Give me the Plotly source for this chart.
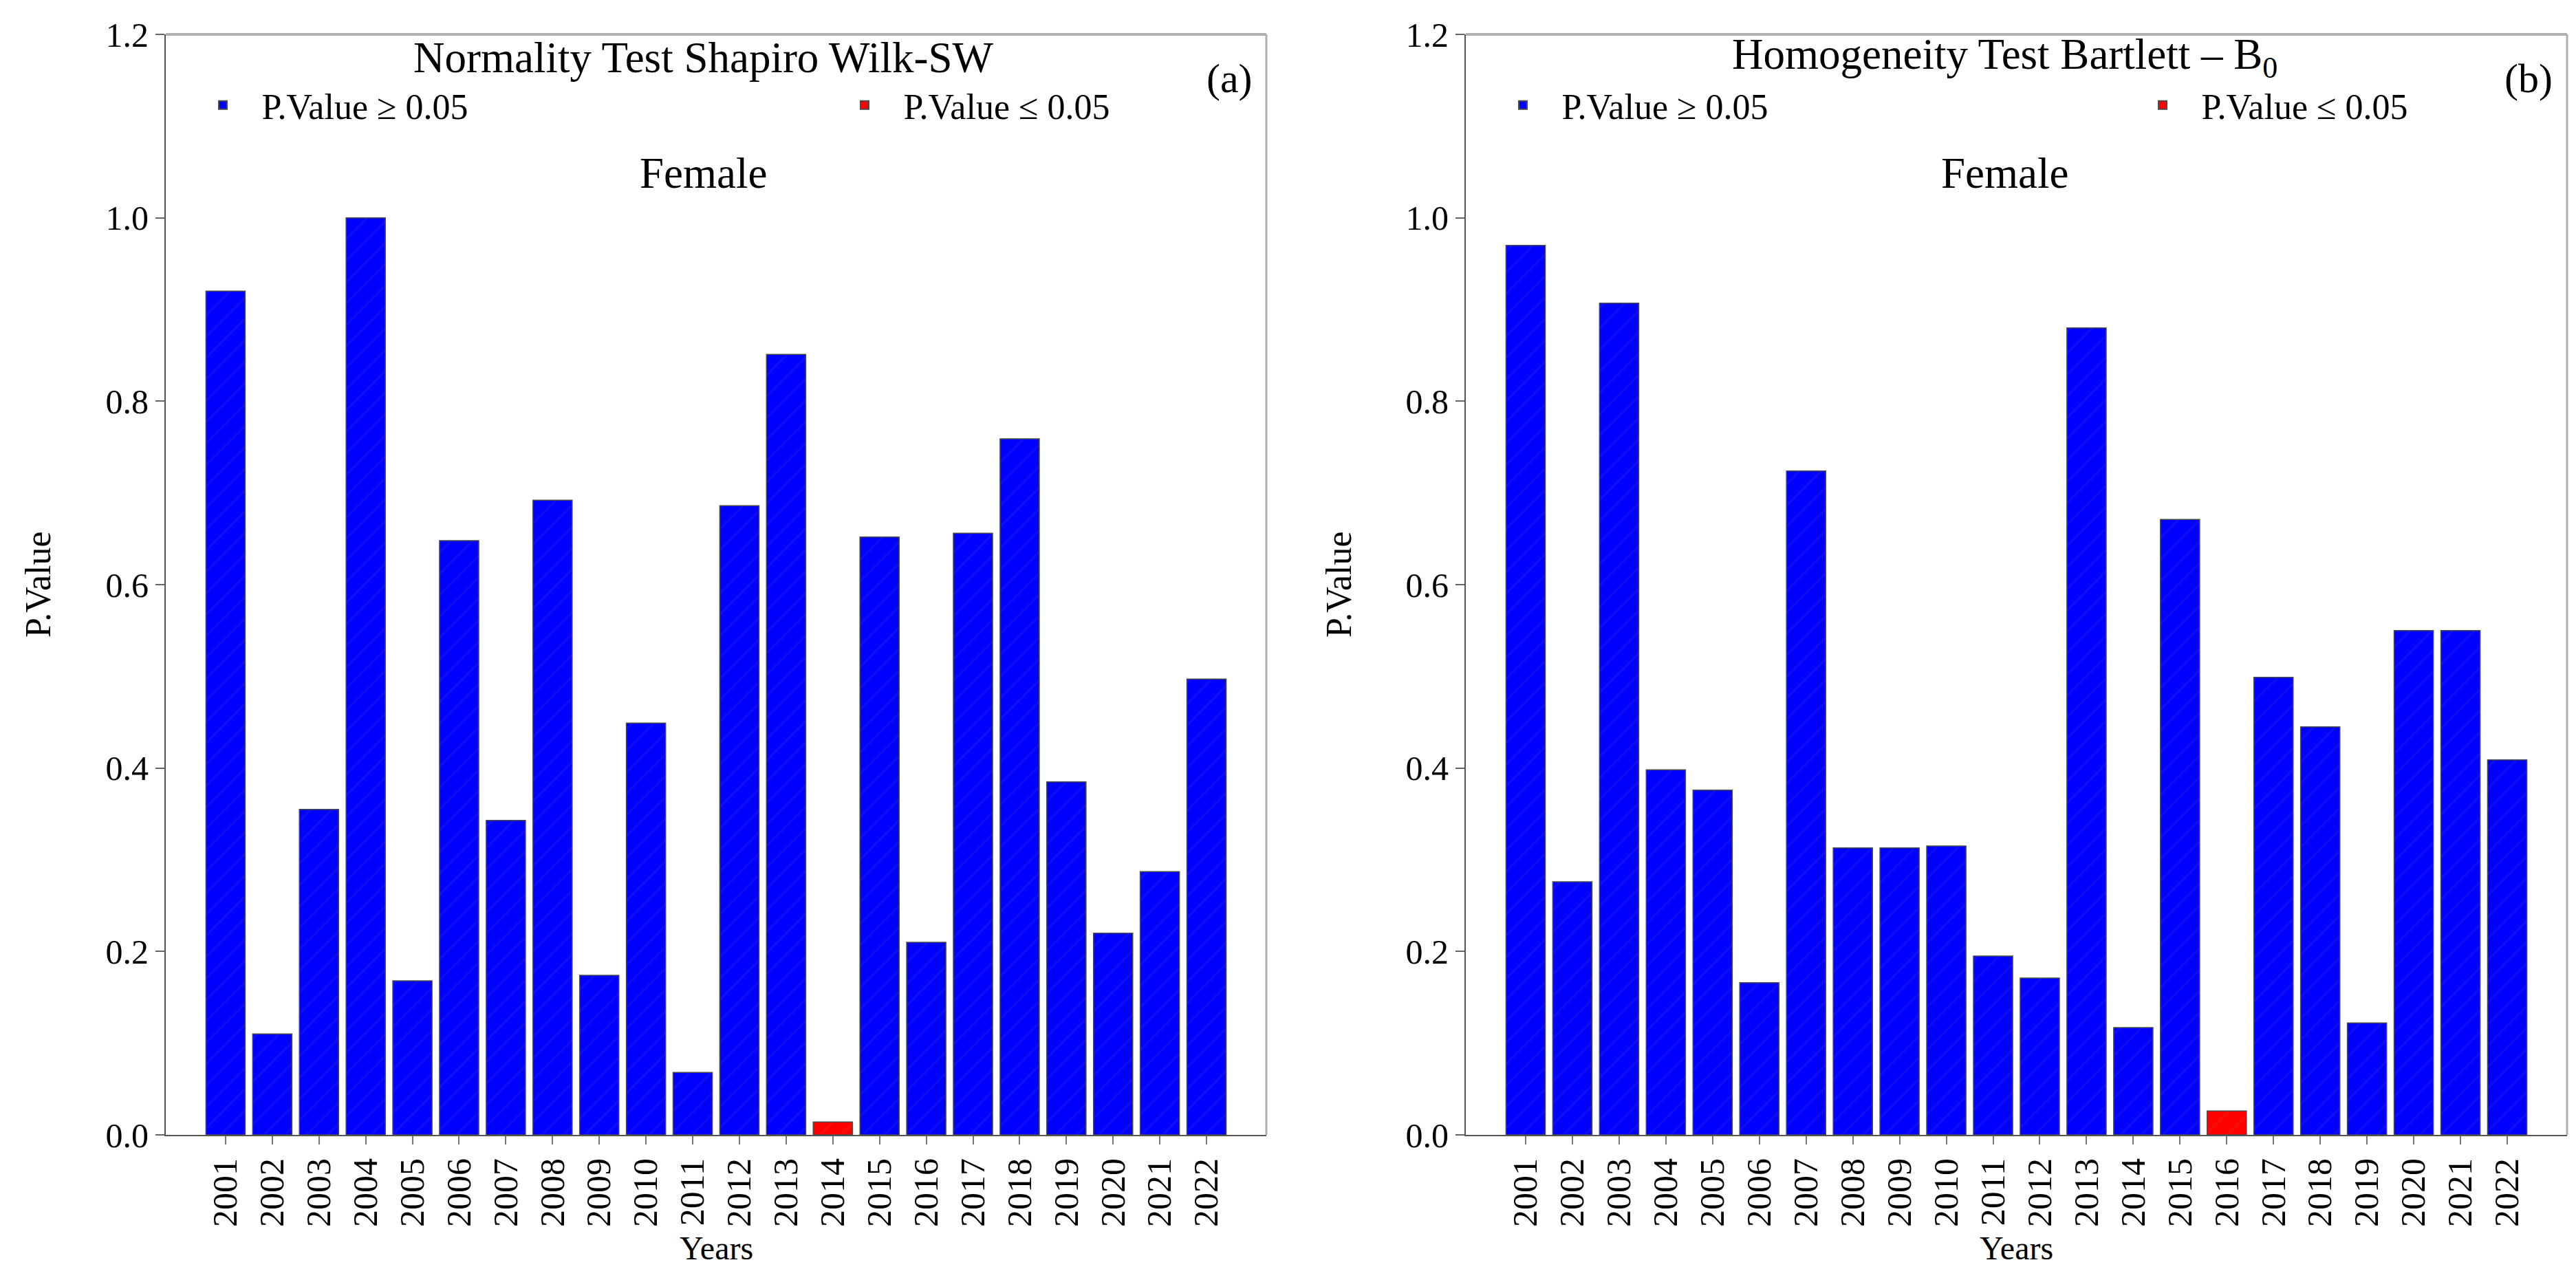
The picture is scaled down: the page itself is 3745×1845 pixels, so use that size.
import plotly.graph_objects as go

years = list(range(2001, 2023))
year_labels = [str(y) for y in years]

# Panel (a): Normality Test Shapiro Wilk-SW, Female
sw_pvalues = [0.920, 0.110, 0.355, 1.000, 0.168, 0.648, 0.343, 0.692, 0.174, 0.449, 0.068,
              0.686, 0.851, 0.014, 0.652, 0.210, 0.656, 0.759, 0.385, 0.220, 0.287, 0.497]
# Panel (b): Homogeneity Test Bartlett - B0, Female
b0_pvalues = [0.970, 0.276, 0.907, 0.398, 0.376, 0.166, 0.724, 0.313, 0.313, 0.315, 0.195,
              0.171, 0.880, 0.117, 0.671, 0.026, 0.499, 0.445, 0.122, 0.550, 0.550, 0.409]

threshold = 0.05
y_ticks = [0.0, 0.2, 0.4, 0.6, 0.8, 1.0, 1.2]

W, H = 3745, 1845
ML, MR, MT, MB = 0, 0, 42, 203
FONT = "Liberation Serif, Times New Roman, serif"
BLUE = "#0000FF"
RED = "#FF0000"

def px_x(p):
    return p / W

def px_y(p):
    return (H - MB - p) / (H - MT - MB)

fig = go.Figure()

panels = [
    (sw_pvalues, "x", "y", ("legend", "legend2"), "Normality Test Shapiro Wilk-SW", "(a)"),
    (b0_pvalues, "x2", "y2", ("legend3", "legend4"), "Homogeneity Test Bartlett \u2013 B<sub>0</sub>", "(b)"),
]

for vals, xa, ya, legs, _, _ in panels:
    hi_x = [y for y, v in zip(years, vals) if v >= threshold]
    hi_v = [v for v in vals if v >= threshold]
    lo_x = [y for y, v in zip(years, vals) if v < threshold]
    lo_v = [v for v in vals if v < threshold]
    for xs, vs, col, name, leg in [(hi_x, hi_v, BLUE, "\u2002\u2009P.Value \u2265 0.05", legs[0]),
                                   (lo_x, lo_v, RED, "\u2002\u2009P.Value \u2264 0.05", legs[1])]:
        fig.add_trace(go.Bar(
            x=xs, y=vs, name=name, xaxis=xa, yaxis=ya, legend=leg,
            width=0.84,
            marker=dict(color=col, line=dict(color="#4a4a4a", width=1.5),
                        pattern=dict(shape="/", fgcolor="#1a1af0" if col == BLUE else "#f01a1a",
                                     size=22, solidity=0.15)),
        ))

dom1 = [px_x(233), px_x(1833)]
dom2 = [px_x(2123), px_x(3724)]

xaxis_common = dict(
    range=[1999.72, 2023.28], tickvals=years, ticktext=year_labels, tickangle=-90,
    showline=True, linecolor="#555555", linewidth=2, ticks="outside", ticklen=12,
    tickwidth=2, tickcolor="#777777", showgrid=False, zeroline=False,
    tickfont=dict(family=FONT, size=50, color="black"),
)
yaxis_common = dict(
    range=[0, 1.2], tickvals=y_ticks, tickformat=".1f",
    showline=True, linecolor="#555555", linewidth=2, ticks="outside", ticklen=13,
    tickwidth=2, tickcolor="#666666", showgrid=False, zeroline=False,
    tickfont=dict(family=FONT, size=50, color="black"),
)

LEG_FONT = 52

def legend_at(xpx):
    return dict(orientation="h", x=px_x(xpx), y=px_y(145), xanchor="left", yanchor="middle",
                font=dict(family=FONT, size=LEG_FONT, color="black"),
                bgcolor="rgba(0,0,0,0)", itemsizing="constant")

fig.update_layout(
    width=W, height=H,
    margin=dict(l=ML, r=MR, t=MT, b=MB),
    paper_bgcolor="white", plot_bgcolor="white",
    barmode="overlay",
    font=dict(family=FONT, color="black"),
    xaxis={**xaxis_common, "domain": dom1, "anchor": "y"},
    yaxis={**yaxis_common, "domain": [0, 1], "anchor": "x"},
    xaxis2={**xaxis_common, "domain": dom2, "anchor": "y2"},
    yaxis2={**yaxis_common, "domain": [0, 1], "anchor": "x2"},
    legend=legend_at(296),
    legend2=legend_at(1229),
    legend3=legend_at(2186),
    legend4=legend_at(3116),
    showlegend=True,
)

# Top and right frame lines (lighter gray) for both panels
for xr, yr in [("x domain", "y domain"), ("x2 domain", "y2 domain")]:
    fig.add_shape(type="line", xref=xr, yref=yr, x0=0, x1=1, y0=1, y1=1,
                  line=dict(color="#b0b0b0", width=4))
    fig.add_shape(type="line", xref=xr, yref=yr, x0=1, x1=1, y0=0, y1=1,
                  line=dict(color="#b0b0b0", width=3))

ann = []
centers = [(1015, 1033, 47, 1779), (2906, 2923, 1938, 3668)]
for (vals, xa, ya, legs, title, tag), (tc, pc, ylx, tagx) in zip(panels, centers):
    ann.append(dict(text=title, x=px_x(tc), y=px_y(76), xref="paper", yref="paper",
                    showarrow=False, xanchor="center", yanchor="middle",
                    font=dict(family=FONT, size=63, color="black")))
    ann.append(dict(text="Female", x=px_x(tc), y=px_y(244),
                    xref="paper", yref="paper", showarrow=False, xanchor="center",
                    yanchor="middle", font=dict(family=FONT, size=63, color="black")))
    ann.append(dict(text=tag, x=px_x(tagx), y=px_y(106), xref="paper", yref="paper",
                    showarrow=False, xanchor="center", yanchor="middle",
                    font=dict(family=FONT, size=60, color="black")))
    ann.append(dict(text="Years", x=px_x(pc), y=px_y(1806), xref="paper", yref="paper",
                    showarrow=False, xanchor="center", yanchor="middle",
                    font=dict(family=FONT, size=48, color="black")))
    ann.append(dict(text="P.Value", x=px_x(ylx), y=px_y(842), xref="paper", yref="paper",
                    showarrow=False, xanchor="center", yanchor="middle", textangle=-90,
                    font=dict(family=FONT, size=52, color="black")))
fig.update_layout(annotations=ann)

fig.write_html("out.html")
